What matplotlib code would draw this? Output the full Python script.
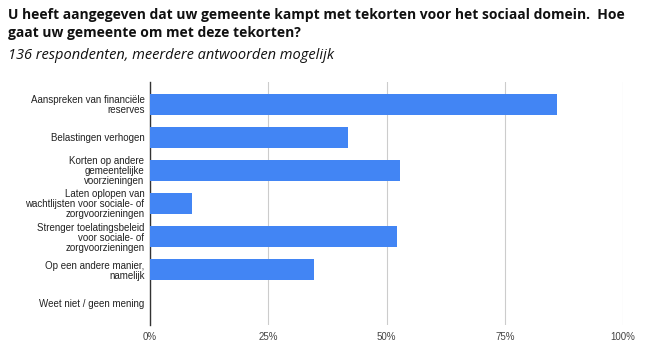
import matplotlib
matplotlib.use("Agg")
import matplotlib.pyplot as plt

categories = [
    "Aanspreken van financiële\nreserves",
    "Belastingen verhogen",
    "Korten op andere\ngemeentelijke\nvoorzieningen",
    "Laten oplopen van\nwachtlijsten voor sociale- of\nzorgvoorzieningen",
    "Strenger toelatingsbeleid\nvoor sociale- of\nzorgvoorzieningen",
    "Op een andere manier,\nnamelijk",
    "Weet niet / geen mening",
]
values = [0.86, 0.419, 0.529, 0.088, 0.522, 0.346, 0.0]
xticks = [0, 0.25, 0.5, 0.75, 1.0]
xticklabels = ["0%", "25%", "50%", "75%", "100%"]

fig = plt.figure(figsize=(6.56, 3.53), dpi=100)
ax = fig.add_axes([150/656, 1-325/353, 473/656, (325-82)/353])

y = list(range(len(categories)))
ax.barh(y, values, height=0.64, color="#4285F4", zorder=3)
ax.set_ylim(len(categories)-0.32, -0.68)
ax.set_xlim(0, 1.0)
ax.set_xticks(xticks)
ax.set_xticklabels(xticklabels, fontsize=7, color="#444444", family="Liberation Sans")
ax.set_yticks(y)
ax.set_yticklabels(categories, fontsize=7, color="#222222", family="Liberation Sans", linespacing=1.0)
ax.tick_params(axis="both", length=0)
ax.tick_params(axis="y", pad=4)
ax.tick_params(axis="x", pad=5)
for s in ["top", "right", "bottom"]:
    ax.spines[s].set_visible(False)
ax.spines["left"].set_color("#333333")
ax.spines["left"].set_linewidth(1)
ax.grid(axis="x", color="#cccccc", linewidth=0.8, zorder=0)
ax.set_axisbelow(True)

fig.text(8/656, 1-8/353, "U heeft aangegeven dat uw gemeente kampt met tekorten voor het sociaal domein.  Hoe\ngaat uw gemeente om met deze tekorten?",
         fontsize=10, fontweight="bold", family="Open Sans", va="top", ha="left", linespacing=1.4, color="#111111")
fig.text(8/656, 1-48/353, "136 respondenten, meerdere antwoorden mogelijk",
         fontsize=10.5, fontstyle="italic", family="Open Sans", va="top", ha="left", color="#111111")

fig.savefig("out.png", dpi=100)
